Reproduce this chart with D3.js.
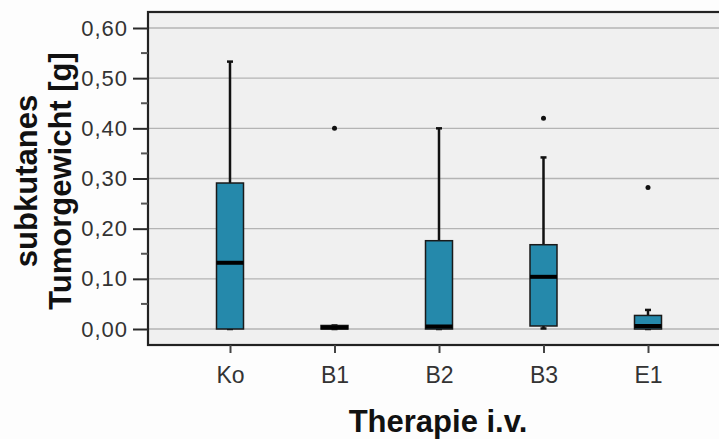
<!DOCTYPE html>
<html>
<head>
<meta charset="utf-8">
<script src="https://d3js.org/d3.v7.min.js"></script>
<style>
  body { margin: 0; background: #fdfdfd; }
  text { font-family: "Liberation Sans", Arial, sans-serif; }
</style>
</head>
<body>
<div id="chart"></div>
<script>
var categories = ["Ko", "B1", "B2", "B3", "E1"];
var whiskerLow = [0, 0, 0, 0.001, 0];
var q1 = [0, 0, 0, 0.006, 0];
var median = [0.132, 0.003, 0.005, 0.104, 0.006];
var q3 = [0.291, 0.007, 0.176, 0.168, 0.027];
var whiskerHigh = [0.533, 0.007, 0.40, 0.342, 0.038];
var outliers = [[], [0.40], [], [0.42], [0.282]];
var yTicks = [0, 0.1, 0.2, 0.3, 0.4, 0.5, 0.6];

var W = 719, H = 439;
var pLeft = 148, pTop = 12, pRight = 730, pBottom = 345;

var svg = d3.select("#chart").append("svg")
  .attr("width", W).attr("height", H);

var x = d3.scalePoint().domain(categories).range([230, 648]);
var y = d3.scaleLinear().domain([0, 0.6]).range([329, 28]);

// panel
svg.append("rect")
  .attr("x", pLeft).attr("y", pTop)
  .attr("width", pRight - pLeft).attr("height", pBottom - pTop)
  .attr("fill", "#f0f0f0");

// grid
svg.selectAll("line.grid").data(yTicks).enter().append("line")
  .attr("x1", pLeft).attr("x2", pRight)
  .attr("y1", function(d){ return y(d) }).attr("y2", function(d){ return y(d) })
  .attr("stroke", "#b4b4b4").attr("stroke-width", 1.3);

// frame
svg.append("rect")
  .attr("x", pLeft).attr("y", pTop)
  .attr("width", pRight - pLeft).attr("height", pBottom - pTop)
  .attr("fill", "none").attr("stroke", "#222").attr("stroke-width", 2.2);

// y axis
var yAxis = d3.axisLeft(y).tickValues(yTicks).tickSize(15).tickPadding(5)
  .tickFormat(function(d){ return d3.format(".2f")(d).replace(".", ",") });
var gy = svg.append("g").attr("transform", "translate(" + pLeft + ",0)").call(yAxis);
gy.select(".domain").remove();
gy.selectAll(".tick line").attr("stroke", "#2a2a2a").attr("stroke-width", 2);
gy.selectAll(".tick text").attr("font-size", 22).attr("letter-spacing", 1).attr("fill", "#333");

var minor = [0.05, 0.15, 0.25, 0.35, 0.45, 0.55];
svg.selectAll("line.minor").data(minor).enter().append("line")
  .attr("x1", pLeft - 7).attr("x2", pLeft)
  .attr("y1", function(d){ return y(d) }).attr("y2", function(d){ return y(d) })
  .attr("stroke", "#555").attr("stroke-width", 2);

// x axis
var xAxis = d3.axisBottom(x).tickSize(8).tickPadding(14);
var gx = svg.append("g").attr("transform", "translate(0," + pBottom + ")").call(xAxis);
gx.select(".domain").remove();
gx.selectAll(".tick line").attr("stroke", "#444").attr("stroke-width", 2);
gx.selectAll(".tick text").attr("font-size", 23).attr("fill", "#333");

// boxes
var bw = 27;
var boxes = svg.selectAll("g.box").data(categories).enter().append("g");

boxes.append("line")
  .attr("x1", function(d){ return x(d) }).attr("x2", function(d){ return x(d) })
  .attr("y1", function(d, i){ return y(whiskerHigh[i]) })
  .attr("y2", function(d, i){ return y(q3[i]) })
  .attr("stroke", "#111").attr("stroke-width", 2.5);
boxes.append("line")
  .attr("x1", function(d){ return x(d) }).attr("x2", function(d){ return x(d) })
  .attr("y1", function(d, i){ return y(q1[i]) })
  .attr("y2", function(d, i){ return y(whiskerLow[i]) })
  .attr("stroke", "#111").attr("stroke-width", 2.5);
boxes.append("line")
  .attr("x1", function(d){ return x(d) - 3 }).attr("x2", function(d){ return x(d) + 3 })
  .attr("y1", function(d, i){ return y(whiskerHigh[i]) })
  .attr("y2", function(d, i){ return y(whiskerHigh[i]) })
  .attr("stroke", "#111").attr("stroke-width", 2.5);
boxes.append("line")
  .attr("x1", function(d){ return x(d) - 3 }).attr("x2", function(d){ return x(d) + 3 })
  .attr("y1", function(d, i){ return y(whiskerLow[i]) })
  .attr("y2", function(d, i){ return y(whiskerLow[i]) })
  .attr("stroke", "#111").attr("stroke-width", 2.5);

boxes.append("rect")
  .attr("x", function(d){ return x(d) - bw / 2 })
  .attr("width", bw)
  .attr("y", function(d, i){ return y(q3[i]) })
  .attr("height", function(d, i){ return y(q1[i]) - y(q3[i]) })
  .attr("fill", "#2589ab").attr("stroke", "#1a1a1a").attr("stroke-width", 1.5);

boxes.append("line")
  .attr("x1", function(d){ return x(d) - bw / 2 }).attr("x2", function(d){ return x(d) + bw / 2 })
  .attr("y1", function(d, i){ return y(median[i]) })
  .attr("y2", function(d, i){ return y(median[i]) })
  .attr("stroke", "#000").attr("stroke-width", 4);

boxes.each(function(d, i){
  d3.select(this).selectAll("circle").data(outliers[i]).enter().append("circle")
    .attr("cx", x(d)).attr("cy", function(v){ return y(v) })
    .attr("r", 2.5).attr("fill", "#111");
});

// titles
svg.append("text")
  .attr("transform", "translate(37,181) rotate(-90)")
  .attr("text-anchor", "middle").attr("font-size", 31).attr("font-weight", "bold")
  .attr("fill", "#111").text("subkutanes");
svg.append("text")
  .attr("transform", "translate(71,181) rotate(-90)")
  .attr("text-anchor", "middle").attr("font-size", 31).attr("font-weight", "bold")
  .attr("fill", "#111").text("Tumorgewicht [g]");
svg.append("text")
  .attr("x", 438).attr("y", 432)
  .attr("text-anchor", "middle").attr("font-size", 31).attr("font-weight", "bold")
  .attr("fill", "#111").text("Therapie i.v.");
</script>
</body>
</html>
